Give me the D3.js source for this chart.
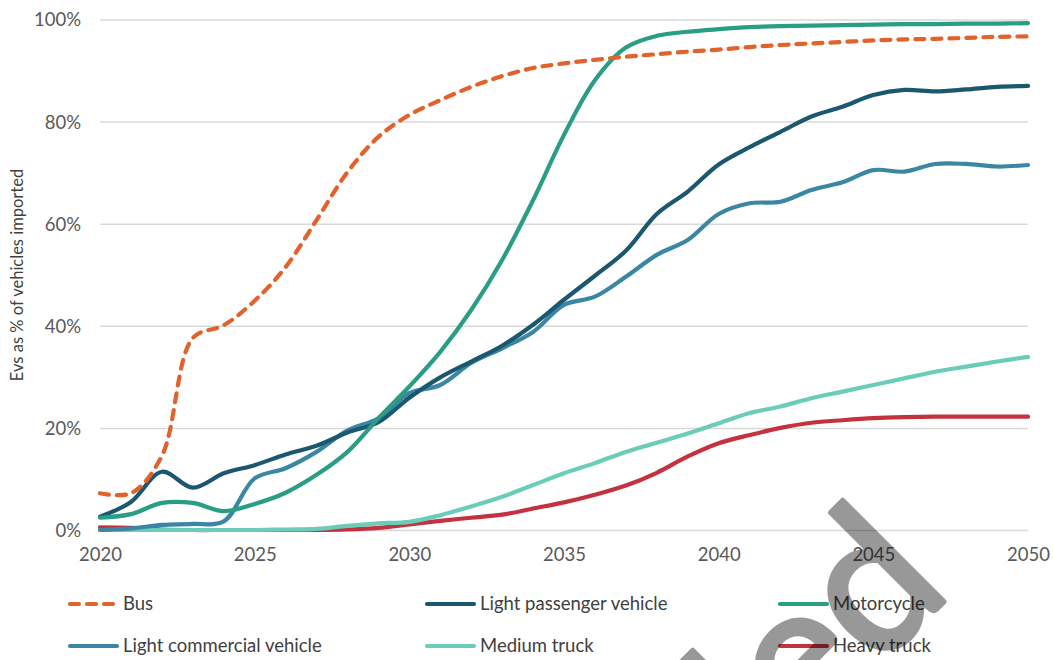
<!DOCTYPE html>
<html><head><meta charset="utf-8">
<script src="https://cdn.jsdelivr.net/npm/d3@7"></script>
<style>body{margin:0;background:#fff;}svg{display:block;}text{font-family:Lato,"Liberation Sans",sans-serif;}</style>
</head><body><svg id="c" width="1053" height="660"></svg>
<script>
const years = d3.range(2020, 2051);
const bus = [7.3,7.3,14.6,37.7,40.2,45.0,51.6,60.8,70.2,77.1,81.4,84.3,86.9,89.0,90.6,91.5,92.2,92.8,93.3,93.8,94.2,94.7,95.1,95.4,95.7,96.0,96.2,96.3,96.5,96.7,96.8];
const lpv = [2.7,5.6,11.5,8.4,11.2,12.8,14.9,16.6,19.2,21.2,26.0,30.0,33.1,36.2,40.3,45.2,49.9,54.8,62.0,66.4,71.7,75.1,78.1,81.1,83.0,85.3,86.3,86.0,86.4,86.9,87.1];
const moto = [2.5,3.2,5.4,5.4,3.8,5.2,7.4,10.9,15.4,22.0,28.2,35.0,43.2,53.0,64.7,77.5,88.2,94.6,96.9,97.7,98.2,98.6,98.8,98.9,99.0,99.1,99.2,99.2,99.3,99.3,99.4];
const lcv = [0.1,0.4,1.1,1.3,1.8,10.2,12.2,15.4,19.6,22.0,26.9,28.5,32.8,35.7,38.9,44.2,45.8,49.7,54.0,56.9,62.0,64.1,64.4,66.7,68.2,70.6,70.3,71.8,71.8,71.3,71.6];
const medium = [0.1,0.1,0.1,0.1,0.1,0.1,0.2,0.3,0.9,1.4,1.7,3.0,4.7,6.6,8.9,11.2,13.2,15.4,17.2,19.0,21.0,23.0,24.3,25.9,27.2,28.5,29.8,31.1,32.1,33.1,34.0];
const heavy = [0.6,0.5,0.2,0.1,0.1,0.1,0.1,0.1,0.2,0.5,1.2,1.9,2.5,3.1,4.3,5.5,7.0,8.8,11.3,14.5,17.1,18.7,20.1,21.1,21.6,22.0,22.2,22.3,22.3,22.3,22.3];
const yTicks = [0,20,40,60,80,100];
const xTicks = [2020,2025,2030,2035,2040,2045,2050];

const seriesNames = ["Bus","Light passenger vehicle","Motorcycle","Light commercial vehicle","Medium truck","Heavy truck"];
const seriesVals = [bus,lpv,moto,lcv,medium,heavy];
const colors = ["#E2622B","#1B5870","#2A9D85","#3A86A3","#6ACDBA","#C4323F"];
const dashed = [true,false,false,false,false,false];

const svg = d3.select("#c");
const x = d3.scaleLinear().domain([2020,2050]).range([100,1028]);
const y = d3.scaleLinear().domain([0,100]).range([530.5,20]);

// gridlines
svg.append("g").selectAll("line").data(yTicks).join("line")
  .attr("x1",x(2020)).attr("x2",x(2050))
  .attr("y1",d=>y(d)).attr("y2",d=>y(d))
  .attr("stroke","#d9d9d9").attr("stroke-width",1.5);

// y axis labels
const yAxis = d3.axisLeft(y).tickValues(yTicks).tickFormat(d=>d+"%").tickSize(0).tickPadding(0);
const gy = svg.append("g").attr("transform","translate(81,0)").call(yAxis);
gy.select(".domain").remove();
gy.selectAll("text").attr("font-size",18.5).attr("fill","#595959").attr("font-family","Lato,'Liberation Sans',sans-serif");

const xAxis = d3.axisBottom(x).tickValues(xTicks).tickFormat(d3.format("d")).tickSize(0).tickPadding(0);
const gx = svg.append("g").attr("transform","translate(0,548)").call(xAxis);
gx.select(".domain").remove();
gx.selectAll("text").attr("font-size",18.5).attr("fill","#595959").attr("font-family","Lato,'Liberation Sans',sans-serif");

svg.append("text").attr("transform","translate(23,275) rotate(-90)")
  .attr("text-anchor","middle").attr("font-size",16.5).attr("fill","#404040")
  .text("Evs as % of vehicles imported");

const line = d3.line().x((d,i)=>x(years[i])).y(d=>y(d)).curve(d3.curveCatmullRom.alpha(0.5));
const drawOrder = [5,4,3,1,2,0];
drawOrder.forEach(k=>{
  svg.append("path").datum(seriesVals[k]).attr("d",line)
    .attr("fill","none").attr("stroke",colors[k]).attr("stroke-width",4.2)
    .attr("stroke-linecap","round")
    .attr("stroke-dasharray", dashed[k] ? "9,8" : null);
});

// legend
const legX = [70,427,780];
const legY = [604,646];
seriesNames.forEach((n,i)=>{
  const lx = legX[i%3], ly = legY[Math.floor(i/3)];
  svg.append("line").attr("x1",lx).attr("x2",lx+47).attr("y1",ly).attr("y2",ly)
    .attr("stroke",colors[i]).attr("stroke-width",4.2).attr("stroke-linecap","round")
    .attr("stroke-dasharray", dashed[i] ? "9,8" : null);
  svg.append("text").attr("x",lx+53).attr("y",ly).attr("dy","0.35em")
    .attr("font-size",18.5).attr("fill","#404040").text(n);
});

// watermark
svg.append("g").attr("opacity",0.4).append("text")
  .attr("transform","translate(954,592) rotate(-45)")
  .attr("text-anchor","end").attr("font-size",195)
  .attr("font-family","'Liberation Sans',Arial,sans-serif")
  .attr("fill","#000").attr("stroke","#000").attr("stroke-width",5)
  .attr("stroke-linejoin","round").text("Superseded");
</script></body></html>
